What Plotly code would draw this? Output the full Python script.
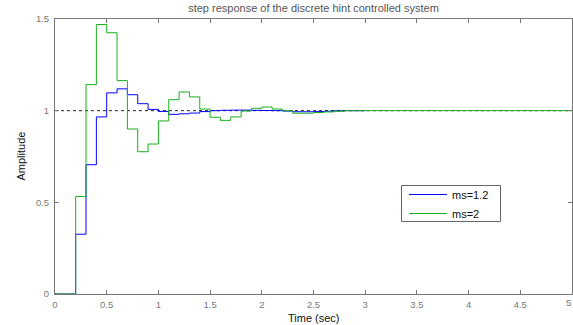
import plotly.graph_objects as go

# Sample times (s) and step response values
t_blue = [0.0, 0.1, 0.2, 0.3, 0.4, 0.5, 0.6, 0.7, 0.8, 0.9, 1.0,
          1.1, 1.2, 1.3, 1.4, 1.5, 1.6, 1.7, 1.8, 1.9, 2.0,
          2.1, 2.2, 2.3, 2.4, 2.5, 2.6, 2.7, 2.8, 2.9, 3.0]
y_blue = [0.0, 0.0, 0.326, 0.705, 0.966, 1.097, 1.119, 1.087, 1.038, 1.007, 0.996,
          0.980, 0.983, 0.987, 0.995, 1.000, 1.002, 1.003, 1.003, 1.002, 1.001,
          1.000, 0.998, 0.994, 0.994, 0.995, 0.997, 0.999, 1.000, 1.000, 1.000]

t_green = [0.0, 0.1, 0.2, 0.3, 0.4, 0.5, 0.6, 0.7, 0.8, 0.9, 1.0,
           1.1, 1.2, 1.3, 1.4, 1.5, 1.6, 1.7, 1.8, 1.9, 2.0,
           2.1, 2.2, 2.3, 2.4, 2.5, 2.6, 2.7, 2.8, 2.9, 3.0, 5.0]
y_green = [0.0, 0.0, 0.532, 1.142, 1.470, 1.425, 1.164, 0.900, 0.776, 0.818, 0.944,
           1.060, 1.102, 1.075, 1.009, 0.964, 0.947, 0.966, 0.998, 1.013, 1.020,
           1.009, 1.000, 0.986, 0.986, 0.990, 0.993, 0.997, 1.000, 1.000, 1.000, 1.000]

ref_t = [0.0, 5.0]
ref_y = [1.0, 1.0]

x_ticks = [0, 0.5, 1, 1.5, 2, 2.5, 3, 3.5, 4, 4.5]
x_labels = ["0", "0.5", "1", "1.5", "2", "2.5", "3", "3.5", "4", "4.5"]
x_last_tick = 5
x_last_label = "5"
y_ticks = [0, 0.5, 1, 1.5]
y_labels = ["0", "0.5", "1", "1.5"]

FONT = "Liberation Sans, Arial, sans-serif"
W, H = 573, 325
ML, MR, MT, MB = 55, 1, 19, 31
PW, PH = W - ML - MR, H - MT - MB


def px_x(px):
    return (px - ML) / PW


def px_y(py):
    return (H - MB - py) / PH


fig = go.Figure()
fig.add_trace(go.Scatter(x=ref_t, y=ref_y, mode="lines", showlegend=False,
                         line=dict(color="#222222", width=1, dash="3px,3px"),
                         hoverinfo="skip"))
fig.add_trace(go.Scatter(x=t_blue, y=y_blue, mode="lines", name="ms=1.2",
                         line=dict(color="#0000ff", width=1, shape="hv")))
fig.add_trace(go.Scatter(x=t_green, y=y_green, mode="lines", name="ms=2",
                         line=dict(color="#19b019", width=1, shape="hv")))

axis_common = dict(showline=True, linecolor="#777777", linewidth=1, mirror="ticks",
                   ticks="inside", ticklen=4, tickcolor="#777777", showgrid=False,
                   zeroline=False, automargin=False,
                   tickfont=dict(family=FONT, size=9.5, color="#777777"))

fig.update_layout(
    width=W, height=H,
    margin=dict(l=ML, r=MR, t=MT, b=MB, autoexpand=False),
    paper_bgcolor="white", plot_bgcolor="white",
    title=dict(text="step response of the discrete hint controlled system",
               x=(ML + W - MR) / 2 / W, xanchor="center",
               y=1 - 8 / H, yanchor="middle", automargin=False,
               font=dict(family=FONT, size=11, color="#555555")),
    xaxis=dict(range=[0, 5], tickvals=x_ticks + [x_last_tick], ticktext=x_labels + [""],
               ticklabelstandoff=2, **axis_common),
    yaxis=dict(range=[0, 1.5], tickvals=y_ticks, ticktext=y_labels, ticklabelstandoff=3,
               **axis_common),
    shapes=[
        dict(type="rect", xref="paper", yref="paper",
             x0=px_x(401.5), x1=px_x(500.5), y0=px_y(221.5), y1=px_y(185.5),
             fillcolor="white", line=dict(color="#666666", width=1), layer="below"),
    ],
    annotations=[
        dict(text="Time (sec)", xref="paper", yref="paper", x=0.5, y=-(318 - 294) / PH,
             xanchor="center", yanchor="middle", showarrow=False,
             font=dict(family=FONT, size=11, color="#111111")),
        dict(text="Amplitude", xref="paper", yref="paper", x=-(ML - 20) / PW, y=0.5,
             xanchor="center", yanchor="middle", showarrow=False, textangle=-90,
             font=dict(family=FONT, size=11, color="#111111")),
        dict(text=x_last_label, xref="paper", yref="paper", x=px_x(573), y=-(302 - 294) / PH,
             xanchor="right", yanchor="middle", showarrow=False,
             font=dict(family=FONT, size=9.5, color="#777777")),
    ],
    legend=dict(x=px_x(404), y=px_y(180), xanchor="left", yanchor="top",
                bgcolor="rgba(0,0,0,0)", borderwidth=0,
                font=dict(family=FONT, size=11, color="#111111"),
                itemwidth=38, tracegroupgap=0),
    showlegend=True,
)

fig.write_html("out.html",
               config={"displayModeBar": False},
               post_script="document.body.style.margin='0px';document.body.style.overflow='hidden';")
